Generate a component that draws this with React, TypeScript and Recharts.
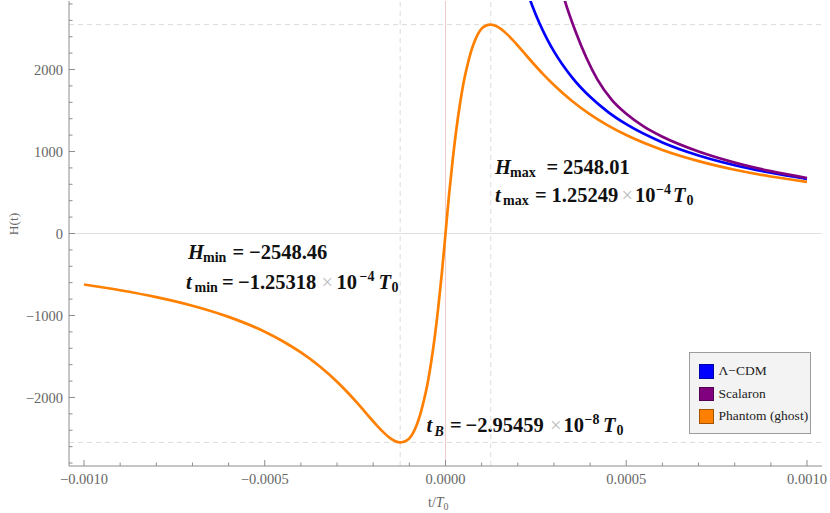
import React from "react";
import {
  LineChart,
  Line,
  XAxis,
  YAxis,
  ReferenceLine,
  Legend,
  Customized,
} from "recharts";

// time is in units of 1e-4 T0
const phantomT = [
  -10, -9, -8, -7, -6, -5, -4.5, -4, -3.5, -3, -2.7, -2.4, -2.2, -2, -1.85, -1.7,
  -1.55, -1.4, -1.25, -1.1, -1.0, -0.9, -0.8, -0.7, -0.6, -0.5, -0.4, -0.3, -0.2,
  -0.1, 0, 0.1, 0.2, 0.3, 0.4, 0.5, 0.6, 0.7, 0.8, 0.9, 1.0, 1.1, 1.25, 1.4, 1.55,
  1.7, 1.85, 2, 2.2, 2.4, 2.7, 3, 3.5, 4, 4.5, 5, 6, 7, 8, 9, 10,
];
const phantomH = [
  -622, -692, -776, -881, -1017, -1198, -1314, -1451, -1614, -1809, -1943, -2088,
  -2190, -2291, -2365, -2432, -2490, -2531, -2548, -2532, -2500, -2436, -2338,
  -2208, -2040, -1840, -1580, -1270, -900, -480, 0, 480, 900, 1270, 1580, 1840,
  2040, 2208, 2338, 2436, 2500, 2532, 2548, 2531, 2490, 2432, 2365, 2291, 2190,
  2089, 1944, 1811, 1616, 1453, 1316, 1201, 1019, 883, 778, 695, 629,
];

const lcdmT = [2.2, 2.4, 2.6, 2.8, 3, 3.5, 4, 4.5, 5, 6, 7, 8, 9, 10];
const lcdmH = [3030, 2778, 2564, 2381, 2222, 1905, 1667, 1481, 1333, 1111, 952, 833, 741, 667];

const scalaronT = [3.1, 3.3, 3.6, 3.9, 4.2, 4.6, 5, 5.5, 6, 7, 8, 9, 10];
const scalaronH = [3150, 2840, 2460, 2140, 1880, 1630, 1460, 1300, 1180, 1000, 865, 760, 677];

const seriesOrder = ["\u039b\u2212CDM", "Scalaron", "Phantom (ghost)"];

const xTicks = [-10, -9, -8, -7, -6, -5, -4, -3, -2, -1, 0, 1, 2, 3, 4, 5, 6, 7, 8, 9, 10];
const yTicks = [
  -2800, -2600, -2400, -2200, -2000, -1800, -1600, -1400, -1200, -1000, -800, -600,
  -400, -200, 0, 200, 400, 600, 800, 1000, 1200, 1400, 1600, 1800, 2000, 2200, 2400,
  2600, 2800,
];

const tMin = -1.25318;
const tMax = 1.25249;
const hMin = -2548.46;
const hMax = 2548.01;

const FONT = '"Liberation Serif", "Times New Roman", serif';
const FRAME = "#8c8c8c";
const LABEL = "#666";

const rows = (ts: number[], hs: number[]) => ts.map((t, i) => ({ t, h: hs[i] }));

const fmtX = (v: number) => (v / 10000).toFixed(4).replace("-", "\u2212");
const fmtY = (v: number) => String(v).replace("-", "\u2212");

const BottomTick = (p: any) => {
  const v = p.payload.value;
  const major = v % 5 === 0;
  return (
    <g>
      <line x1={p.x} x2={p.x} y1={p.y} y2={p.y - (major ? 6 : 3.5)} stroke={FRAME} />
      {major && (
        <text x={p.x} y={p.y + 17.5} textAnchor="middle" fontSize={14.5} fill={LABEL} fontFamily={FONT}>
          {fmtX(v)}
        </text>
      )}
    </g>
  );
};

const TopTick = (p: any) => {
  const major = p.payload.value % 5 === 0;
  return <line x1={p.x} x2={p.x} y1={p.y} y2={p.y + (major ? 6 : 3.5)} stroke={FRAME} />;
};

const LeftTick = (p: any) => {
  const v = p.payload.value;
  const major = v % 1000 === 0;
  return (
    <g>
      <line x1={p.x} x2={p.x + (major ? 6 : 3.5)} y1={p.y} y2={p.y} stroke={FRAME} />
      {major && (
        <text x={p.x - 6} y={p.y} dy="0.35em" textAnchor="end" fontSize={14.5} fill={LABEL} fontFamily={FONT}>
          {fmtY(v)}
        </text>
      )}
    </g>
  );
};

const RightTick = (p: any) => {
  const major = p.payload.value % 1000 === 0;
  return <line x1={p.x} x2={p.x - (major ? 6 : 3.5)} y1={p.y} y2={p.y} stroke={FRAME} />;
};

type Part = { s: string; dx: number; it?: boolean; small?: boolean; shift?: number; gray?: boolean };

const Formula = ({ x, y, parts }: { x: number; y: number; parts: Part[] }) => (
  <text fontFamily={FONT} fontWeight="bold" fill="#111">
    {parts.map((p, i) => (
      <tspan
        key={i}
        x={x + p.dx}
        y={y + (p.shift ?? 0)}
        fontSize={p.small ? 14 : 20.5}
        fontStyle={p.it ? "italic" : "normal"}
        fontWeight={p.gray ? "normal" : "bold"}
        fill={p.gray ? "#bdbdbd" : "#111"}
      >
        {p.s}
      </tspan>
    ))}
  </text>
);

const Annotations = () => (
  <g>
    <Formula
      x={495}
      y={173.5}
      parts={[
        { s: "H", dx: 0, it: true },
        { s: "max", dx: 15, small: true, shift: 3 },
        { s: "=", dx: 51.5 },
        { s: hMax.toFixed(2), dx: 68 },
      ]}
    />
    <Formula
      x={495}
      y={201.5}
      parts={[
        { s: "t", dx: 0, it: true },
        { s: "max", dx: 8, small: true, shift: 3 },
        { s: "=", dx: 40 },
        { s: tMax.toFixed(5), dx: 56.5 },
        { s: "\u00d7", dx: 126.5, gray: true },
        { s: "10", dx: 140 },
        { s: "\u22124", dx: 161, small: true, shift: -8 },
        { s: "T", dx: 178, it: true },
        { s: "0", dx: 191.5, small: true, shift: 3 },
      ]}
    />
    <Formula
      x={188}
      y={258.5}
      parts={[
        { s: "H", dx: 0, it: true },
        { s: "min", dx: 15, small: true, shift: 3 },
        { s: "=", dx: 44.5 },
        { s: "\u2212" + Math.abs(hMin).toFixed(2), dx: 61 },
      ]}
    />
    <Formula
      x={186}
      y={288.5}
      parts={[
        { s: "t", dx: 0, it: true },
        { s: "min", dx: 8.5, small: true, shift: 3 },
        { s: "=", dx: 36 },
        { s: "\u2212" + Math.abs(tMin).toFixed(5), dx: 52 },
        { s: "\u00d7", dx: 135.5, gray: true },
        { s: "10", dx: 150.5 },
        { s: "\u22124", dx: 173.5, small: true, shift: -8 },
        { s: "T", dx: 192.5, it: true },
        { s: "0", dx: 205.5, small: true, shift: 3 },
      ]}
    />
    <Formula
      x={426.5}
      y={431.5}
      parts={[
        { s: "t", dx: 0, it: true },
        { s: "B", dx: 8, small: true, it: true, shift: 4 },
        { s: "=", dx: 23.5 },
        { s: "\u22122.95459", dx: 39 },
        { s: "\u00d7", dx: 123.5, gray: true },
        { s: "10", dx: 137 },
        { s: "\u22128", dx: 158, small: true, shift: -8 },
        { s: "T", dx: 176.5, it: true },
        { s: "0", dx: 190, small: true, shift: 3 },
      ]}
    />
    <text transform="translate(18,224) rotate(-90)" textAnchor="middle" fontSize={13.5} fill={LABEL} fontFamily={FONT}>
      H(t)
    </text>
    <text x={428} y={507} fontSize={14} fill={LABEL} fontFamily={FONT}>
      t/<tspan fontStyle="italic">T</tspan>
      <tspan fontSize={10} dy={3}>0</tspan>
    </text>
  </g>
);

const LegendBox = (props: any) => {
  const items = [...(props.payload || [])].sort(
    (a: any, b: any) => seriesOrder.indexOf(a.value) - seriesOrder.indexOf(b.value)
  );
  return (
    <div
      style={{
        background: "#f3f3f3",
        border: "1px solid #9c9c9c",
        boxSizing: "border-box",
        width: 122,
        height: 82,
        padding: "7px 0 0 9px",
        fontFamily: FONT,
        fontSize: 13.5,
        color: "#222",
      }}
    >
      {items.map((e: any) => (
        <div key={e.value} style={{ display: "flex", alignItems: "center", height: 22.5 }}>
          <span
            style={{
              display: "inline-block",
              width: 14.5,
              height: 14.5,
              background: e.color,
              border: "1px solid rgba(0,0,0,0.35)",
              boxSizing: "border-box",
              marginRight: 5,
            }}
          />
          {e.value}
        </div>
      ))}
    </div>
  );
};

export default function App() {
  return (
    <div style={{ position: "absolute", left: 0, top: 0, background: "#fff" }}>
      <LineChart width={830} height={513} margin={{ top: 1, right: 8, bottom: 0, left: 0 }}>
        <XAxis
          xAxisId="b"
          dataKey="t"
          type="number"
          domain={[-10.415, 10.415]}
          ticks={xTicks}
          interval={0}
          allowDataOverflow
          height={47}
          tickSize={0}
          tickMargin={0}
          tickLine={false}
          axisLine={{ stroke: FRAME }}
          tick={<BottomTick />}
        />
        <XAxis
          xAxisId="top"
          orientation="top"
          dataKey="t"
          type="number"
          domain={[-10.415, 10.415]}
          ticks={xTicks}
          interval={0}
          allowDataOverflow
          height={0}
          tickSize={0}
          tickMargin={0}
          tickLine={false}
          axisLine={{ stroke: FRAME }}
          tick={<TopTick />}
        />
        <YAxis
          yAxisId="l"
          type="number"
          domain={[-2836, 2836]}
          ticks={yTicks}
          interval={0}
          allowDataOverflow
          width={69}
          tickSize={0}
          tickMargin={0}
          tickLine={false}
          axisLine={{ stroke: FRAME }}
          tick={<LeftTick />}
        />
        <YAxis
          yAxisId="r"
          orientation="right"
          type="number"
          domain={[-2836, 2836]}
          ticks={yTicks}
          interval={0}
          allowDataOverflow
          width={0}
          tickSize={0}
          tickMargin={0}
          tickLine={false}
          axisLine={{ stroke: FRAME }}
          tick={<RightTick />}
        />
        <ReferenceLine xAxisId="b" yAxisId="l" y={0} stroke="#e2e2e2" />
        <ReferenceLine xAxisId="b" yAxisId="l" x={0} stroke="#f0c9c9" />
        <ReferenceLine xAxisId="b" yAxisId="l" y={hMax} stroke="#dcdcdc" strokeDasharray="5 4" />
        <ReferenceLine xAxisId="b" yAxisId="l" y={hMin} stroke="#dcdcdc" strokeDasharray="5 4" />
        <ReferenceLine xAxisId="b" yAxisId="l" x={tMin} stroke="#dcdcdc" strokeDasharray="5 4" />
        <ReferenceLine xAxisId="b" yAxisId="l" x={tMax} stroke="#dcdcdc" strokeDasharray="5 4" />
        <Line
          xAxisId="b"
          yAxisId="l"
          data={rows(lcdmT, lcdmH)}
          dataKey="h"
          name={seriesOrder[0]}
          type="monotone"
          stroke="#0000ff"
          strokeWidth={2.7}
          dot={false}
          isAnimationActive={false}
        />
        <Line
          xAxisId="b"
          yAxisId="l"
          data={rows(scalaronT, scalaronH)}
          dataKey="h"
          name={seriesOrder[1]}
          type="monotone"
          stroke="#800080"
          strokeWidth={2.7}
          dot={false}
          isAnimationActive={false}
        />
        <Line
          xAxisId="b"
          yAxisId="l"
          data={rows(phantomT, phantomH)}
          dataKey="h"
          name={seriesOrder[2]}
          type="monotone"
          stroke="#ff8000"
          strokeWidth={2.7}
          dot={false}
          isAnimationActive={false}
        />
        <Legend
          layout="horizontal"
          verticalAlign="middle"
          align="center"
          content={<LegendBox />}
          wrapperStyle={{ left: 689, top: 352, width: 122 }}
        />
        <Customized component={<Annotations />} />
      </LineChart>
    </div>
  );
}
